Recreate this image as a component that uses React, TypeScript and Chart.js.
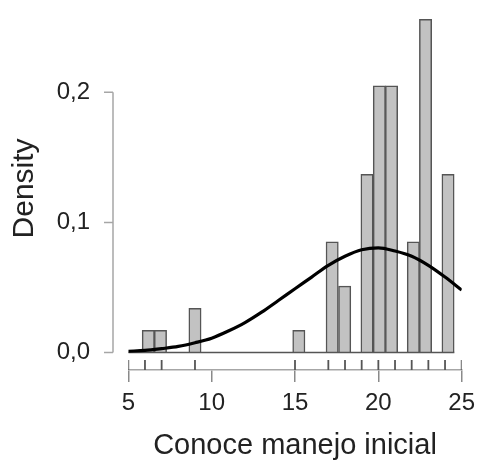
import React, { useEffect, useRef } from "react";
import Chart from "chart.js/auto";

// histogram bars (bin centre, density)
const binCenters = [6.2, 6.93, 9.0, 15.23, 17.23, 17.98, 19.32, 20.06, 20.79, 22.1, 22.83, 24.18];
const binDensity = [0.017, 0.017, 0.034, 0.017, 0.085, 0.051, 0.137, 0.205, 0.205, 0.085, 0.256, 0.137];
const histRange = [5, 24.56];

// density curve
const curveX = [5, 6, 7, 8, 9, 10, 11, 12, 13, 14, 15, 16, 17, 18, 19, 20, 21, 22, 23, 24, 25];
const curveY = [
  0.001, 0.0016, 0.003, 0.0047, 0.0075, 0.011, 0.0165, 0.023, 0.031, 0.04, 0.049,
  0.058, 0.067, 0.074, 0.079, 0.0805, 0.078, 0.074, 0.067, 0.058, 0.048,
];

// rug marks
const rugValues = [5, 6, 7, 9, 15, 17, 18, 19, 20, 21, 22, 23, 24, 25];

const xTicks = [5, 10, 15, 20, 25];
const yTicks = [0, 0.1, 0.2];

const FONT = "'Liberation Sans', Arial, sans-serif";
const AXIS_GREY = "#a6a6a6";

const yAxisLine = {
  id: "yAxisLine",
  afterDraw(chart: any) {
    const { ctx, chartArea } = chart;
    const y = chart.scales.y;
    const x0 = chartArea.left - 15.3;
    ctx.save();
    ctx.strokeStyle = AXIS_GREY;
    ctx.lineWidth = 1.5;
    ctx.beginPath();
    ctx.moveTo(x0, y.getPixelForValue(yTicks[0]));
    ctx.lineTo(x0, y.getPixelForValue(yTicks[yTicks.length - 1]));
    yTicks.forEach((v) => {
      const py = y.getPixelForValue(v);
      ctx.moveTo(x0, py);
      ctx.lineTo(x0 - 9, py);
    });
    ctx.stroke();
    ctx.restore();
  },
};

const App: React.FC = () => {
  const chartRef = useRef<HTMLCanvasElement>(null);
  const chartInstance = useRef<Chart | null>(null);

  useEffect(() => {
    if (chartRef && chartRef.current) {
      const ctx = chartRef.current.getContext("2d");
      if (ctx) {
        if (chartInstance.current) {
          chartInstance.current.destroy();
        }
        chartInstance.current = new Chart(ctx, {
          type: "bar",
          data: {
            datasets: [
              {
                type: "line",
                label: "density",
                data: curveX.map((x, i) => ({ x, y: curveY[i] })),
                borderColor: "#000",
                borderWidth: 3.2,
                pointRadius: 0,
                cubicInterpolationMode: "monotone",
                fill: false,
                order: 0,
              } as any,
              {
                type: "line",
                label: "baseline",
                data: histRange.map((x) => ({ x, y: 0 })),
                borderColor: "#555",
                borderWidth: 1.5,
                pointRadius: 0,
                order: 1,
              } as any,
              {
                type: "bar",
                label: "hist",
                data: binCenters.map((x, i) => ({ x, y: binDensity[i] })),
                backgroundColor: "#c2c2c2",
                borderColor: "#555",
                borderWidth: 1.5,
                barThickness: 12.3,
                grouped: false,
                order: 2,
              } as any,
              {
                type: "scatter",
                label: "rug",
                data: rugValues.map((x) => ({ x, y: -0.0096 })),
                pointStyle: "line",
                rotation: 90,
                pointRadius: 5,
                borderColor: "#555",
                backgroundColor: "#555",
                pointBorderWidth: 1.8,
                order: 0,
              } as any,
            ],
          },
          options: {
            animation: false,
            responsive: true,
            maintainAspectRatio: false,
            layout: { padding: { top: 6, right: 16.3, left: 0, bottom: 0 } },
            plugins: {
              legend: { display: false },
              tooltip: { enabled: false },
            },
            scales: {
              x: {
                type: "linear",
                min: 5,
                max: 25,
                offset: false,
                afterBuildTicks: (scale: any) => {
                  scale.ticks = xTicks.map((value) => ({ value }));
                },
                afterFit: (scale: any) => {
                  scale.height = 94;
                },
                ticks: {
                  color: "#222",
                  font: { family: FONT, size: 24, lineHeight: 1.78 },
                  padding: 0,
                  maxRotation: 0,
                  autoSkip: false,
                },
                grid: {
                  offset: false,
                  drawOnChartArea: false,
                  drawTicks: true,
                  tickLength: 12,
                  color: "#8a8a8a",
                  lineWidth: 1.5,
                },
                border: { display: true, color: AXIS_GREY, width: 1.5 },
                title: {
                  display: true,
                  text: "Conoce manejo inicial",
                  color: "#222",
                  font: { family: FONT, size: 29, lineHeight: 1 },
                  padding: { top: 0, bottom: 3.5 },
                },
              },
              y: {
                type: "linear",
                min: -0.01342,
                max: 0.2657,
                afterBuildTicks: (scale: any) => {
                  scale.ticks = yTicks.map((value) => ({ value }));
                },
                afterFit: (scale: any) => {
                  scale.width = 128.3;
                },
                ticks: {
                  color: "#222",
                  font: { family: FONT, size: 24, lineHeight: 0.5 },
                  padding: 0,
                  callback: (value: string | number) =>
                    Number(value).toFixed(1).replace(".", ","),
                },
                grid: { display: false, drawTicks: true, tickLength: 38.3 },
                border: { display: false },
                title: {
                  display: true,
                  text: "Density",
                  color: "#222",
                  font: { family: FONT, size: 30, lineHeight: 1 },
                  padding: { top: 9.6, bottom: 0 },
                },
              },
            },
          },
          plugins: [yAxisLine],
        });
      }
    }

    return () => {
      if (chartInstance.current) {
        chartInstance.current.destroy();
        chartInstance.current = null;
      }
    };
  }, []);

  return (
    <div style={{ position: "fixed", left: 0, top: 0, width: 478, height: 464, background: "#fff" }}>
      <canvas ref={chartRef} />
    </div>
  );
};

export default App;
